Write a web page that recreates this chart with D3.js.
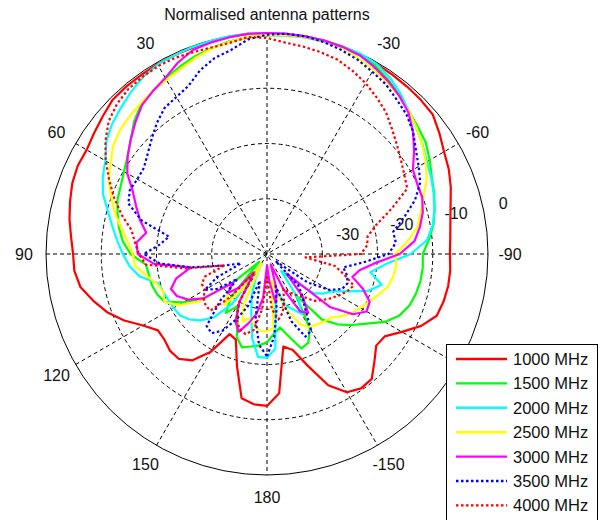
<!DOCTYPE html>
<html><head><meta charset="utf-8">
<script src="https://cdn.jsdelivr.net/npm/d3@7"></script>
<style>body{margin:0;background:#fff}svg{display:block}</style>
</head><body><svg id="c" width="600" height="520"></svg>
<script>
// sampling angles (deg, 0 = up, positive = counter-clockwise)
const angles = [-180,-175,-170,-165,-160,-155,-150,-145,-140,-135,-130,-125,-120,-115,-110,-105,-100,-95,-90,-85,-80,-75,-70,-65,-60,-55,-50,-45,-40,-35,-30,-25,-20,-15,-10,-5,0,5,10,15,20,25,30,35,40,45,50,55,60,65,70,75,80,85,90,95,100,105,110,115,120,125,130,135,140,145,150,155,160,165,170,175,180];

const d1000 = [-12.5,-14.7,-23,-22,-18.5,-13.8,-11.1,-10.3,-10.5,-12.5,-14.2,-14,-11.8,-9.2,-7.3,-6.9,-6.7,-6.7,-6.9,-6.7,-6.3,-5.6,-4.6,-3.7,-3.0,-1.9,-0.8,-0.6,-0.5,-0.4,-0.3,-0.2,-0.1,0,0,0,0,0,-0.1,-0.2,-0.3,-0.3,-0.3,-0.4,-0.4,-0.5,-1.2,-1.8,-2.3,-2.2,-2.5,-3.1,-3.7,-4.4,-4.9,-5.0,-5.7,-7.4,-9.2,-11.5,-14.1,-15.9,-15.8,-15.2,-15.2,-16.5,-19.5,-24,-23.5,-19,-13.5,-12.7,-12.5];
const d1500 = [-24,-25.5,-26.5,-24.5,-21.8,-22.3,-24.5,-31,-24.5,-22,-20,-18,-15.4,-13.6,-12.6,-12.1,-11.8,-11.7,-11.8,-10.6,-9.4,-8.6,-7.8,-7.1,-6.0,-4.9,-4.3,-3.6,-2.6,-1.6,-0.7,-0.3,-0.2,-0.2,-0.2,-0.3,-0.4,-0.6,-0.9,-1.4,-1.9,-2.6,-3.3,-4,-4.6,-6,-7.8,-9.2,-10.1,-10.8,-11.2,-12,-12.8,-13.8,-15.3,-18,-18.3,-18.4,-18.8,-19.5,-22.5,-26,-32,-38,-30,-27,-29,-27.5,-24,-22.5,-23,-23.4,-24];
const d2000 = [-21.2,-22.8,-31,-33,-30,-29,-27.5,-30,-36,-33,-29,-27.5,-26.5,-24,-20.5,-18.5,-21,-18.5,-14,-10.9,-9.5,-8.6,-7.9,-7.2,-6.6,-5.6,-4.7,-3.6,-2.3,-1.1,-0.3,0,0,0,0,0,0,0,0,-0.1,-0.2,-0.3,-0.4,-0.9,-1.7,-2.6,-3.4,-4.5,-6.2,-7.2,-8.4,-10.2,-11.6,-12.8,-13.9,-15,-16.6,-19.6,-20,-20.3,-20.5,-20.7,-21.6,-23,-25,-29,-38,-35,-32,-29,-24.5,-21.3,-21.2];
const d2500 = [-26,-26.5,-35,-32,-29,-26,-24.7,-24.4,-24,-23.7,-22.5,-21.3,-20.5,-19.6,-18.5,-17.3,-16.8,-16.5,-16.8,-14.5,-12.4,-11.2,-9.9,-8.1,-6.8,-5.7,-4.6,-3.6,-2.8,-2.1,-1.5,-0.9,-0.3,-0.1,-0.1,-0.2,-0.3,-0.5,-1,-1.5,-2.2,-3,-3.6,-4,-4.4,-4.8,-5.2,-6,-7.3,-8.4,-10,-11.5,-13.2,-14.7,-15.7,-16,-17.8,-19.3,-20,-19.5,-21.5,-25,-32,-30,-28,-32,-38,-30,-27,-28,-27,-26,-26];
const d3000 = [-38,-35,-31,-33,-38,-33,-28,-27,-30,-35,-25,-21,-19.2,-19.5,-21.5,-24,-23,-20.5,-16,-13.2,-11.9,-10.8,-10.1,-10,-9.5,-7.5,-5.5,-3.8,-2.7,-1.8,-1,-0.3,-0.1,0,0,0,0,0,-0.2,-0.4,-0.7,-1.8,-3.2,-4,-4.8,-6.3,-7.8,-9.2,-10.8,-13.2,-14.8,-16.2,-17.8,-16.3,-16.6,-19.5,-26,-23,-21.5,-22,-23.5,-26,-32,-30,-32,-36,-30,-26.5,-25,-27,-29,-32,-38];
const d3500 = [-21.5,-25,-30,-34,-27,-23.5,-24,-28,-30,-32,-38,-31,-27,-25,-24.5,-25,-26,-22.5,-18,-16.6,-16.8,-14.3,-11.5,-9.4,-8.3,-7.1,-5.5,-4.3,-3.5,-2.5,-1.9,-1.2,-0.7,-0.3,0,0,-0.3,-1,-2.5,-3.3,-4.6,-6.4,-7.2,-7.7,-9,-10.5,-11.8,-12.8,-12.9,-12.6,-13.3,-16.5,-22,-20.5,-17.7,-20.5,-26,-32,-35,-30,-27,-29,-33,-28,-23,-22.5,-24,-27,-30,-35,-28,-23.5,-21.5];
const d4000 = [-36,-30,-28,-29,-31,-33,-32,-31,-30,-28,-27,-26,-25,-24,-23.3,-25.5,-27.5,-33,-23,-21.8,-21.5,-19.5,-16,-12,-11.3,-10.4,-9.3,-8,-6.5,-5.4,-4.3,-3.4,-2.6,-2.2,-1.9,-1.6,-0.9,-0.6,-1.2,-1.3,-1.1,-0.8,-0.7,-0.8,-1.0,-1.6,-2.6,-4.3,-6.3,-8.5,-10.6,-12.8,-15.1,-16,-16.8,-18,-25,-32,-28,-27,-27,-26,-25.5,-25.5,-30,-36,-30,-27,-25.5,-25,-26,-30,-36];

const seriesNames = ["1000 MHz","1500 MHz","2000 MHz","2500 MHz","3000 MHz","3500 MHz","4000 MHz"];
const seriesValues = [d1000,d1500,d2000,d2500,d3000,d3500,d4000];
const seriesColors = ["#ff0000","#00ff00","#00ffff","#ffff00","#ff00ff","#0000ff","#ff0000"];
const seriesDotted = [false,false,false,false,false,true,true];

const angleTicks = [30,60,90,120,150,180,-150,-120,-90,-60,-30];
const spokeTicks = [0,30,60,90,120,150];
const radialTicks = [-30,-20,-10,0];
const titleText = "Normalised antenna patterns";

const cx = 267, cy = 254, R = 221;
const FONT = "'Liberation Sans', Arial, Helvetica, sans-serif";
const rad = d => d * Math.PI / 180;
const r = d3.scaleLinear().domain([-40, 0]).range([0, R]).clamp(true);

const svg = d3.select("#c");
svg.append("rect").attr("width",600).attr("height",520).attr("fill","#fff");
const g = svg.append("g").attr("transform", `translate(${cx},${cy})`);

// rings
g.selectAll("circle.ring").data(radialTicks.filter(v => v < 0)).join("circle")
  .attr("class","ring").attr("r", d => r(d)).attr("fill","none")
  .attr("stroke","#000").attr("stroke-width",1).attr("stroke-dasharray","4,3");
// spokes
g.selectAll("line.spoke").data(spokeTicks).join("line")
  .attr("x1", d => -R*Math.sin(rad(d))).attr("y1", d => -R*Math.cos(rad(d)))
  .attr("x2", d => R*Math.sin(rad(d))).attr("y2", d => R*Math.cos(rad(d)))
  .attr("stroke","#000").attr("stroke-width",1).attr("stroke-dasharray","4,3");
// outer circle
g.append("circle").attr("r", R).attr("fill","none").attr("stroke","#000").attr("stroke-width",1);

// angle labels
g.selectAll("text.ang").data(angleTicks).join("text")
  .attr("x", d => -1.1*R*Math.sin(rad(d)))
  .attr("y", d => -1.1*R*Math.cos(rad(d)))
  .attr("text-anchor","middle").attr("dominant-baseline","central")
  .attr("font-family",FONT).attr("font-size",16).attr("fill","#111")
  .text(d => d);

// radial labels
const labAng = rad(-79);
g.selectAll("text.rl").data(radialTicks).join("text")
  .attr("x", d => -(r(d)+12)*Math.sin(labAng) + 3)
  .attr("y", d => -(r(d)+12)*Math.cos(labAng) - 1)
  .attr("font-family",FONT).attr("font-size",16).attr("fill","#111")
  .text(d => d);

// curves
const line = d3.lineRadial()
  .angle(d => -rad(d[0]))
  .radius(d => r(d[1]));
seriesValues.forEach((vals, i) => {
  const pts = angles.map((a, k) => [a, vals[k]]);
  g.append("path").attr("d", line(pts)).attr("fill","none")
    .attr("stroke", seriesColors[i]).attr("stroke-width", 2.2)
    .attr("stroke-linejoin","round")
    .attr("stroke-dasharray", seriesDotted[i] ? "2.5,2.5" : null);
});

// title
svg.append("text").attr("x", 267).attr("y", 20).attr("text-anchor","middle")
  .attr("font-family",FONT).attr("font-size",16).attr("fill","#111").text(titleText);

// legend
const lg = svg.append("g");
lg.append("rect").attr("x",446.5).attr("y",344.5).attr("width",151).attr("height",200)
  .attr("fill","#fff").attr("stroke","#000").attr("stroke-width",1);
seriesNames.forEach((n, i) => {
  const y = 359 + i*24.4;
  lg.append("line").attr("x1",456).attr("x2",507).attr("y1",y).attr("y2",y)
    .attr("stroke",seriesColors[i]).attr("stroke-width",2.4)
    .attr("stroke-dasharray", seriesDotted[i] ? "2.5,2.5" : null);
  lg.append("text").attr("x",513).attr("y",y+6).attr("font-family",FONT)
    .attr("font-size",16.5).attr("fill","#111").text(n);
});
</script></body></html>
